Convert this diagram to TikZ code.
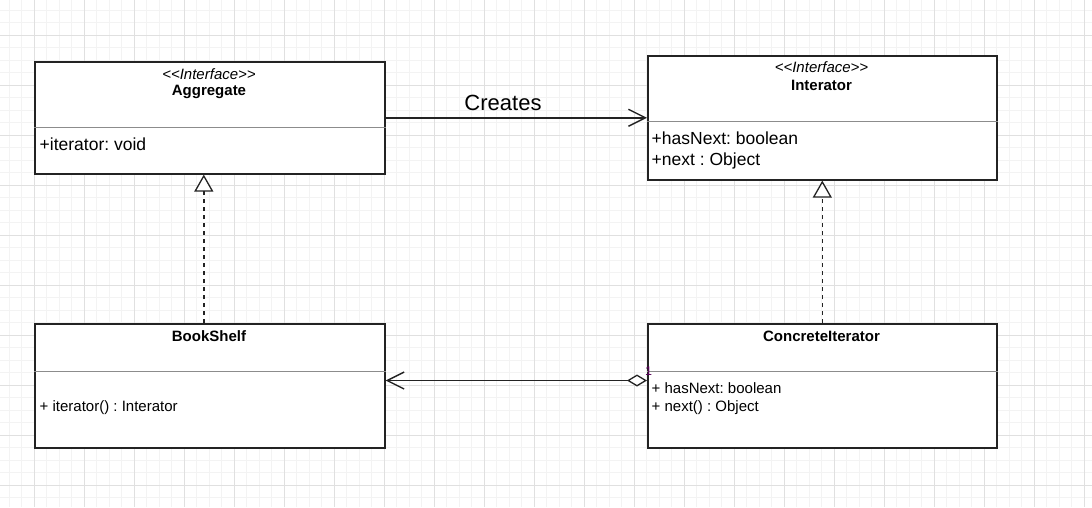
\documentclass[tikz,border=0pt]{standalone}
\usepackage{fontspec}
\setmainfont{Liberation Sans}
\usetikzlibrary{arrows.meta}
\frenchspacing
\definecolor{gridminor}{RGB}{243,243,243}
\definecolor{gridmajor}{RGB}{224,224,224}
\definecolor{edge}{RGB}{35,35,35}
\definecolor{divider}{RGB}{140,140,140}
\definecolor{mult}{RGB}{90,0,90}
\tikzset{
  umlbox/.style={draw=edge, line width=1.6pt, fill=white, inner sep=0pt, anchor=north west},
  divline/.style={draw=divider, line width=1pt},
  txt/.style={inner sep=0pt, text=black},
  stereo/.style={txt, anchor=base, font=\fontsize{15}{18}\selectfont\itshape},
  cname/.style={txt, anchor=base, font=\fontsize{15}{18}\selectfont\bfseries},
  attrbig/.style={txt, anchor=base west, font=\fontsize{17.5}{20}\selectfont},
  attrsmall/.style={txt, anchor=base west, font=\fontsize{15}{18}\selectfont},
  conn/.style={draw=edge, line width=1.4pt},
  openarrow/.style={-{Straight Barb[length=17pt,width=17pt,line width=1.4pt]}},
  realize/.style={conn, dashed, dash pattern=on 4pt off 4pt, -{Triangle[open,fill=white,length=17pt,width=19pt,line width=1.3pt]}},
}
\begin{document}
\begin{tikzpicture}[x=1pt,y=-1pt]
\useasboundingbox (0,0) rectangle (1092,507);
\fill[white] (0,0) rectangle (1092,507);
% grid
\foreach \i in {0,...,88} {
  \draw[gridminor, line width=0.8pt] ({-3.5+12.5*\i},0) -- ({-3.5+12.5*\i},507);
}
\foreach \i in {0,...,41} {
  \draw[gridminor, line width=0.8pt] (0,{-2.5+12.5*\i}) -- (1092,{-2.5+12.5*\i});
}
\foreach \i in {0,...,22} {
  \draw[gridmajor, line width=0.8pt] ({-16+50*\i},0) -- ({-16+50*\i},507);
}
\foreach \i in {0,...,10} {
  \draw[gridmajor, line width=0.8pt] (0,{-15+50*\i}) -- (1092,{-15+50*\i});
}
% boxes
\node[umlbox, minimum width=350pt, minimum height=112pt] (aggr) at (34,61) {};
\node[umlbox, minimum width=349pt, minimum height=124pt] (iter) at (647,55) {};
\node[umlbox, minimum width=350pt, minimum height=124pt] (book) at (34,323) {};
\node[umlbox, minimum width=349pt, minimum height=124pt] (conc) at (647,323) {};
% dividers
\draw[divline] ([yshift=-66pt]aggr.north west) -- ([yshift=-66pt]aggr.north east);
\draw[divline] ([yshift=-66pt]iter.north west) -- ([yshift=-66pt]iter.north east);
\draw[divline] ([yshift=-48pt]book.north west) -- ([yshift=-48pt]book.north east);
\draw[divline] ([yshift=-48pt]conc.north west) -- ([yshift=-48pt]conc.north east);
% texts
\node[stereo] (aggrst) at (209,79) {{<}{<}Interface{>}{>}};
\node[cname] (aggrnm) at (209,95.7) {Aggregate};
\node[attrbig] (aggrat) at (39.5,150) {+iterator: void};
\node[stereo] (iterst) at (821.5,72.7) {{<}{<}Interface{>}{>}};
\node[cname] (iternm) at (821.5,90) {Interator};
\node[attrbig] (iterat1) at (651.5,144.3) {+hasNext: boolean};
\node[attrbig] (iterat2) at (651.5,165) {+next : Object};
\node[cname] (booknm) at (209,341.7) {BookShelf};
\node[attrsmall] (bookat) at (39.5,411.7) {+ iterator() : Interator};
\node[cname] (concnm) at (821.5,341.7) {ConcreteIterator};
\node[attrsmall] (concat1) at (651.5,393.3) {+ hasNext: boolean};
\node[attrsmall] (concat2) at (651.5,411) {+ next() : Object};
% connectors
\draw[conn, openarrow] (aggr.east) -- (aggr.east -| iter.west);
\node[txt, anchor=base, font=\fontsize{22}{26}\selectfont] (creates) at (503,110) {Creates};
\draw[realize] ([xshift=-6pt]book.north) -- ([xshift=-6pt]aggr.south);
\draw[realize] (conc.north) -- (iter.south);
\draw[conn, {Diamond[open,fill=white,length=20pt,width=12pt,line width=1.3pt]}-{Straight Barb[length=17pt,width=17pt,line width=1.4pt]}]
  ([yshift=5.3pt]conc.west) -- ([yshift=5.3pt]conc.west -| book.east);
\node[txt, anchor=base west, text=mult, font=\fontsize{12.5}{14}\selectfont] (multone) at (645,375) {1};
\end{tikzpicture}
\end{document}
